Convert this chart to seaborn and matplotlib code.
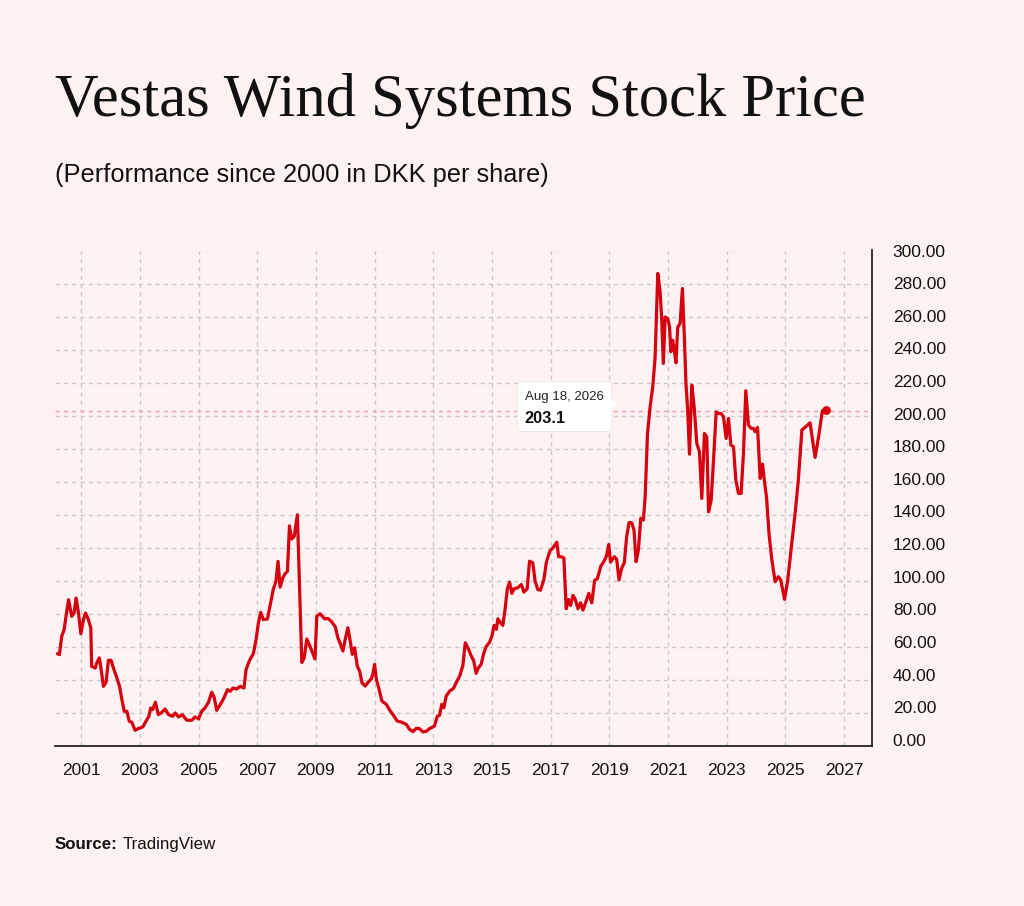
import numpy as np
import pandas as pd
import matplotlib.pyplot as plt
import seaborn as sns
from matplotlib.patches import FancyBboxPatch, Polygon
from matplotlib.transforms import ScaledTranslation

# Data (fractional year, DKK per share)
years = [2000.19, 2000.26, 2000.34, 2000.42, 2000.57, 2000.68, 2000.76, 2000.83, 2000.91, 2000.99,
         2001.08, 2001.15, 2001.25, 2001.33, 2001.36, 2001.48, 2001.53, 2001.62, 2001.70, 2001.76,
         2001.85, 2001.93, 2002.02, 2002.12, 2002.22, 2002.31, 2002.39, 2002.47, 2002.56, 2002.64,
         2002.73, 2002.84, 2002.92, 2003.01, 2003.10, 2003.21, 2003.31, 2003.37, 2003.44, 2003.53,
         2003.63, 2003.73, 2003.86, 2003.98, 2004.12, 2004.21, 2004.32, 2004.45, 2004.60, 2004.77,
         2004.88, 2005.00, 2005.11, 2005.22, 2005.34, 2005.45, 2005.53, 2005.62, 2005.74, 2005.85,
         2005.99, 2006.08, 2006.17, 2006.30, 2006.42, 2006.55, 2006.62, 2006.74, 2006.87, 2006.96,
         2007.04, 2007.12, 2007.21, 2007.35, 2007.44, 2007.55, 2007.64, 2007.71, 2007.78, 2007.87,
         2007.95, 2008.03, 2008.10, 2008.17, 2008.26, 2008.37, 2008.52, 2008.60, 2008.69, 2008.80,
         2008.97, 2009.03, 2009.14, 2009.30, 2009.41, 2009.52, 2009.66, 2009.75, 2009.84, 2009.92,
         2010.00, 2010.09, 2010.18, 2010.24, 2010.32, 2010.41, 2010.49, 2010.57, 2010.68, 2010.77,
         2010.89, 2010.94, 2011.00, 2011.06, 2011.14, 2011.25, 2011.40, 2011.51, 2011.62, 2011.77,
         2011.91, 2012.08, 2012.19, 2012.31, 2012.42, 2012.53, 2012.65, 2012.76, 2012.87, 2013.04,
         2013.14, 2013.21, 2013.29, 2013.36, 2013.44, 2013.56, 2013.69, 2013.78, 2013.90, 2014.01,
         2014.09, 2014.18, 2014.27, 2014.38, 2014.46, 2014.54, 2014.63, 2014.72, 2014.80, 2014.92,
         2015.00, 2015.07, 2015.15, 2015.20, 2015.29, 2015.37, 2015.45, 2015.52, 2015.60, 2015.68,
         2015.75, 2015.88, 2016.00, 2016.09, 2016.20, 2016.28, 2016.39, 2016.47, 2016.56, 2016.65,
         2016.77, 2016.85, 2016.97, 2017.08, 2017.21, 2017.27, 2017.36, 2017.45, 2017.53, 2017.61,
         2017.68, 2017.76, 2017.84, 2017.93, 2018.02, 2018.10, 2018.19, 2018.30, 2018.40, 2018.50,
         2018.59, 2018.71, 2018.82, 2018.90, 2018.98, 2019.04, 2019.17, 2019.25, 2019.33, 2019.42,
         2019.51, 2019.59, 2019.67, 2019.76, 2019.84, 2019.91, 2019.99, 2020.07, 2020.16, 2020.22,
         2020.30, 2020.39, 2020.48, 2020.56, 2020.65, 2020.73, 2020.78, 2020.84, 2020.90, 2020.99,
         2021.05, 2021.10, 2021.16, 2021.22, 2021.27, 2021.33, 2021.41, 2021.49, 2021.56, 2021.61,
         2021.67, 2021.73, 2021.81, 2021.89, 2021.98, 2022.07, 2022.15, 2022.24, 2022.32, 2022.38,
         2022.47, 2022.55, 2022.64, 2022.72, 2022.81, 2022.89, 2022.98, 2023.06, 2023.14, 2023.23,
         2023.31, 2023.40, 2023.49, 2023.57, 2023.65, 2023.74, 2023.83, 2023.91, 2023.97, 2024.05,
         2024.14, 2024.22, 2024.28, 2024.36, 2024.44, 2024.53, 2024.65, 2024.76, 2024.84, 2024.97,
         2025.08, 2025.19, 2025.33, 2025.44, 2025.56, 2025.69, 2025.84, 2026.01, 2026.13, 2026.26]
prices = [55.9, 55.3, 66.4, 70.4, 88.6, 78.5, 80.5, 89.6, 80.5, 68.0,
          76.5, 80.5, 76.5, 71.4, 48.2, 47.2, 50.2, 53.3, 44.2, 36.1,
          38.5, 51.9, 51.9, 46.2, 41.2, 36.1, 28.1, 21.0, 21.0, 15.0,
          14.3, 9.5, 10.3, 10.9, 11.5, 15.0, 18.0, 23.0, 22.0, 26.5,
          19.0, 20.0, 22.4, 19.0, 18.0, 20.0, 17.6, 19.0, 15.6, 15.6,
          17.6, 16.4, 21.0, 23.0, 26.5, 32.5, 29.7, 21.6, 25.0, 28.5,
          34.1, 33.1, 35.1, 34.5, 36.1, 35.1, 46.2, 51.9, 55.9, 64.4,
          74.4, 80.9, 76.5, 76.9, 84.9, 95.0, 99.7, 111.8, 96.2, 101.7,
          104.3, 105.7, 133.3, 125.3, 126.9, 140.0, 50.6, 53.3, 64.8, 60.3,
          52.7, 78.5, 80.1, 77.0, 77.2, 75.6, 72.2, 65.5, 61.5, 57.5,
          64.5, 71.6, 62.5, 55.5, 59.5, 48.4, 45.4, 38.3, 36.3, 38.3,
          40.7, 43.4, 49.4, 40.3, 35.3, 27.2, 25.2, 21.8, 19.2, 15.1,
          14.5, 13.1, 10.1, 8.7, 10.7, 10.5, 8.5, 8.9, 10.5, 12.1,
          18.1, 18.5, 25.2, 23.2, 30.2, 33.3, 34.9, 38.3, 42.3, 48.8,
          62.5, 59.5, 55.5, 51.4, 44.0, 47.4, 49.4, 56.1, 60.1, 62.9,
          66.6, 73.0, 70.6, 77.0, 74.6, 73.0, 83.1, 94.8, 99.2, 92.4,
          95.2, 95.8, 97.8, 93.2, 95.2, 111.9, 110.9, 99.8, 94.8, 94.3,
          100.8, 110.9, 118.0, 120.0, 123.4, 114.6, 114.6, 113.9, 83.1, 88.7,
          85.1, 91.2, 88.7, 83.1, 86.7, 82.3, 86.7, 92.4, 86.7, 100.4,
          101.2, 108.9, 111.9, 115.0, 122.0, 111.3, 114.6, 113.0, 100.5, 107.6,
          111.0, 126.7, 135.2, 135.2, 130.7, 111.6, 118.6, 137.8, 136.8, 150.9,
          189.2, 205.4, 217.5, 235.6, 286.1, 275.0, 259.8, 231.6, 259.8, 258.8,
          253.8, 238.7, 245.7, 238.7, 232.0, 253.4, 255.8, 277.0, 245.7, 219.5,
          203.4, 176.7, 218.5, 205.4, 183.2, 178.1, 149.9, 189.2, 187.2, 141.8,
          148.9, 173.1, 202.3, 201.3, 201.3, 199.3, 186.2, 198.3, 182.2, 181.2,
          161.0, 152.9, 152.9, 177.1, 215.1, 194.3, 192.3, 192.3, 190.2, 192.9,
          162.0, 170.7, 161.0, 149.9, 128.7, 113.6, 99.5, 102.5, 100.5, 88.8,
          100.5, 118.6, 140.8, 161.0, 191.3, 193.3, 195.7, 174.7, 187.2, 203.1]

# latest quote (hover point)
last_date = "Aug 18, 2026"
last_year = [2026.40]
last_price = [203.1]

x_ticks = [2001, 2003, 2005, 2007, 2009, 2011, 2013, 2015, 2017, 2019, 2021, 2023, 2025, 2027]
y_ticks = list(range(0, 301, 20))

bg = '#fff2f2'
red = '#d6000f'

sns.set_style("white")
plt.rcParams['font.family'] = ['Liberation Sans', 'DejaVu Sans']

df = pd.DataFrame({'year': years, 'price': prices})
df_last = pd.DataFrame({'year': last_year, 'price': last_price})

fig = plt.figure(figsize=(10.24, 9.06), dpi=100, facecolor=bg)
ax = fig.add_axes([55/1024, 1 - 746/906, 817/1024, 495.5/906])
ax.set_facecolor(bg)

# grid + reference line
ax.grid(True, color='#c9c9c9', linestyle=(0, (3, 3)), linewidth=1)
ax.axhline(last_price[0], color='#f09aa2', linestyle=(0, (3, 3)), linewidth=1, zorder=2)

sns.lineplot(data=df, x='year', y='price', ax=ax, color=red, linewidth=2.3, zorder=3)
sns.scatterplot(data=df_last, x='year', y='price', ax=ax, color=red, s=40,
                edgecolor='none', zorder=4)

ax.set_xlim(2000.11, 2027.95)
ax.set_ylim(0, 300)
ax.set_xticks(x_ticks)
ax.set_xticklabels([str(t) for t in x_ticks])
ax.set_yticks(y_ticks)
ax.set_yticklabels([f"{t:.2f}" for t in y_ticks])
ax.yaxis.tick_right()
ax.set_xlabel('')
ax.set_ylabel('')

for s in ['top', 'left']:
    ax.spines[s].set_visible(False)
for s in ['bottom', 'right']:
    ax.spines[s].set_color('#111111')
    ax.spines[s].set_linewidth(1.2)

ax.tick_params(axis='x', length=5, width=1.2, color='#111111', pad=7,
               labelsize=12.5, labelcolor='#111111')
ax.tick_params(axis='y', length=0, pad=15, labelsize=12.5, labelcolor='#111111')
# y labels drift slightly above their gridlines towards the bottom
for v, lab in zip(y_ticks, ax.get_yticklabels()):
    dy = (6.2 - 0.0207 * v) / 100
    lab.set_transform(lab.get_transform() + ScaledTranslation(0, dy, fig.dpi_scale_trans))

# tooltip
tx0, tx1 = 2015.87, 2019.08
ty0, ty1 = 190.4, 220.7
box = FancyBboxPatch((tx0, ty0), tx1 - tx0, ty1 - ty0,
                     boxstyle="round,pad=0,rounding_size=0.14", mutation_aspect=17,
                     fc='white', ec='#f5e6e6', lw=0.8, zorder=5)
ax.add_patch(box)
ax.add_patch(Polygon([(tx1 - 0.02, 210.0), (tx1 + 0.19, 206.6), (tx1 - 0.02, 203.0)],
                     closed=True, fc='white', ec='none', zorder=6))
ax.text(tx0 + 0.24, 211.0, last_date, fontsize=9.5, color='#222222', va='center', zorder=7)
ax.text(tx0 + 0.24, 198.5, f"{last_price[0]:.1f}", fontsize=11.8, fontweight='bold',
        color='#111111', va='center', zorder=7)

# titles
fig.text(55/1024, 1 - 116/906, "Vestas Wind Systems Stock Price", family='Liberation Serif',
         fontsize=43.7, color='#111111', va='baseline', ha='left')
fig.text(55/1024, 1 - 175/906, "(Performance since 2000 in DKK per share)",
         fontsize=18.3, color='#111111', va='center', ha='left')
fig.text(55/1024, 1 - 849/906, "Source:", fontsize=12.2, fontweight='bold',
         color='#111111', va='baseline', ha='left')
fig.text(123/1024, 1 - 849/906, "TradingView", fontsize=12.2, color='#111111',
         va='baseline', ha='left')

fig.savefig('out.png', dpi=100, facecolor=bg)
